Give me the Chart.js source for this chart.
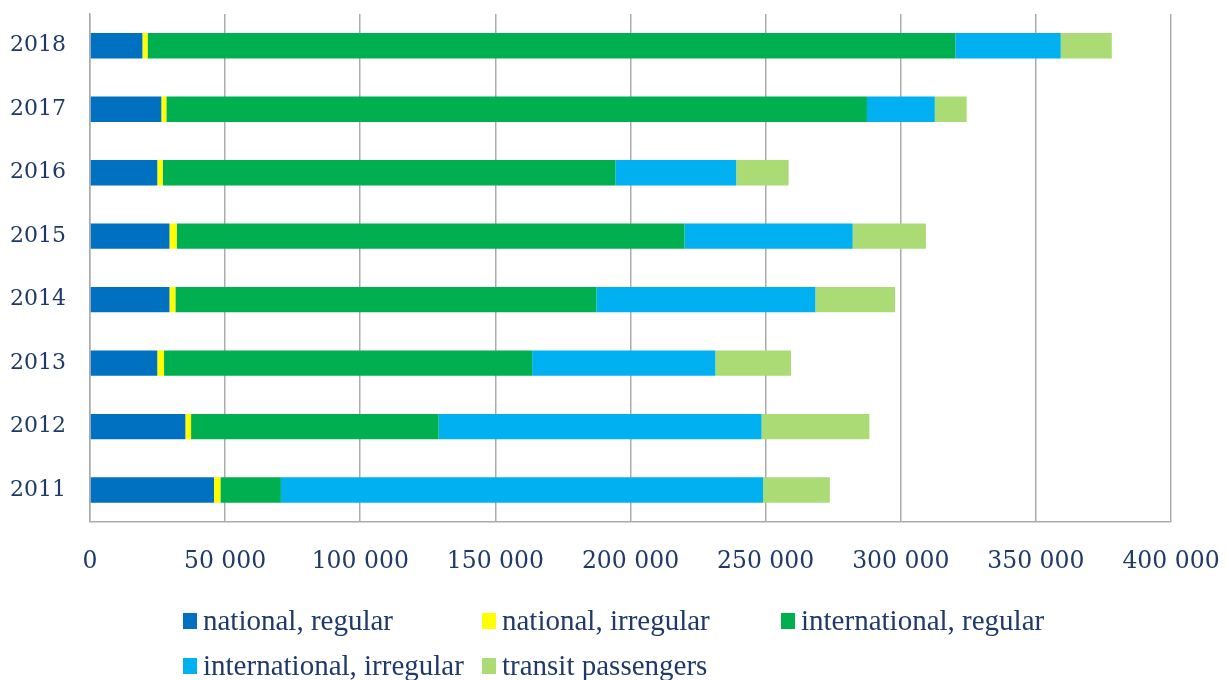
<!DOCTYPE html>
<html>
<head>
<meta charset="utf-8">
<script src="https://cdn.jsdelivr.net/npm/chart.js@4"></script>
<style>
  html, body { margin: 0; padding: 0; background: #fff; }
  #wrap { position: relative; width: 1226px; height: 680px; }
  #legend { position: absolute; left: 183px; top: 598px; font-family: "Liberation Serif", serif; font-size: 29px; color: #1F3A68; }
  .row { display: flex; height: 45px; align-items: center; }
  .item { display: flex; align-items: center; white-space: nowrap; }
  .box { width: 14px; height: 16px; margin-right: 6px; }
</style>
</head>
<body>
<div id="wrap">
  <canvas id="chart" width="1226" height="680"></canvas>
  <div id="legend"></div>
</div>
<script>
// years, top to bottom as drawn
var years = ['2018', '2017', '2016', '2015', '2014', '2013', '2012', '2011'];

var nationalRegular      = [19400, 26400, 24900, 29400, 29400, 24900, 35300, 45900];
var nationalIrregular    = [1900, 1850, 2000, 2700, 2200, 2500, 2100, 2350];
var internationalRegular = [298900, 259250, 167500, 187900, 155800, 136200, 91600, 22400];
var internationalIrreg   = [39000, 25100, 44700, 62200, 81000, 67800, 119500, 178400];
var transitPassengers    = [18900, 11800, 19400, 27100, 29500, 28000, 39900, 24700];

var seriesNames  = ['national, regular', 'national, irregular', 'international, regular', 'international, irregular', 'transit passengers'];
var seriesColors = ['#0070C0', '#FFFF00', '#00B050', '#00B0F0', '#ABDB74'];

var xTicks = [0, 50000, 100000, 150000, 200000, 250000, 300000, 350000, 400000];

var textColor = '#1F3A68';
var gridColor = '#ABABAB';
var xTickPad = 26;
var yTickPad = 24;

function fmt(v) {
    return String(v).replace(/\B(?=(\d{3})+(?!\d))/g, ' ');
}

var allSeries = [nationalRegular, nationalIrregular, internationalRegular, internationalIrreg, transitPassengers];
var datasets = [];
for (var i = 0; i < allSeries.length; i++) {
    datasets.push({
        label: seriesNames[i],
        data: allSeries[i],
        backgroundColor: seriesColors[i],
        borderWidth: 0,
        categoryPercentage: 1.0,
        barPercentage: 0.4
    });
}

var ctx = document.getElementById('chart').getContext('2d');
var chart = new Chart(ctx, {
    type: 'bar',
    data: { labels: years, datasets: datasets },
    options: {
        indexAxis: 'y',
        responsive: false,
        animation: false,
        layout: { padding: { left: 10, right: 55, top: 14, bottom: 104 } },
        plugins: {
            legend: { display: false },
            tooltip: { enabled: false }
        },
        scales: {
            x: {
                stacked: true,
                min: 0,
                max: 400000,
                afterBuildTicks: function(axis) {
                    axis.ticks = xTicks.map(function(v) { return { value: v }; });
                },
                // chart.js counts the tick padding twice; take one back, and ignore label overhang
                afterFit: function(axis) {
                    axis.paddingLeft = 0;
                    axis.paddingRight = 0;
                    axis.height -= xTickPad;
                },
                grid: { color: gridColor, lineWidth: 1.5, drawTicks: false },
                border: { display: true, color: gridColor, width: 1.5 },
                ticks: {
                    padding: xTickPad,
                    color: textColor,
                    font: { family: '"DejaVu Serif", serif', size: 23.5 },
                    maxRotation: 0,
                    autoSkip: false,
                    callback: function(v) { return fmt(v); }
                }
            },
            y: {
                stacked: true,
                afterFit: function(axis) {
                    axis.paddingTop = 0;
                    axis.paddingBottom = 0;
                    axis.width -= yTickPad;
                },
                grid: { display: false, drawTicks: false },
                border: { display: true, color: gridColor, width: 1.5 },
                ticks: {
                    padding: yTickPad,
                    color: textColor,
                    font: { family: '"DejaVu Serif", serif', size: 22 }
                }
            }
        }
    }
});

// legend laid out the way the original wraps it: three columns, then two
var legendRows = [[0, 1, 2], [3, 4]];
var colWidth = 299;
var legend = document.getElementById('legend');
legendRows.forEach(function(row) {
    var div = document.createElement('div');
    div.className = 'row';
    row.forEach(function(idx) {
        var item = document.createElement('div');
        item.className = 'item';
        item.style.width = colWidth + 'px';
        var box = document.createElement('span');
        box.className = 'box';
        box.style.background = chart.data.datasets[idx].backgroundColor;
        var txt = document.createElement('span');
        txt.textContent = chart.data.datasets[idx].label;
        item.appendChild(box);
        item.appendChild(txt);
        div.appendChild(item);
    });
    legend.appendChild(div);
});
</script>
</body>
</html>
